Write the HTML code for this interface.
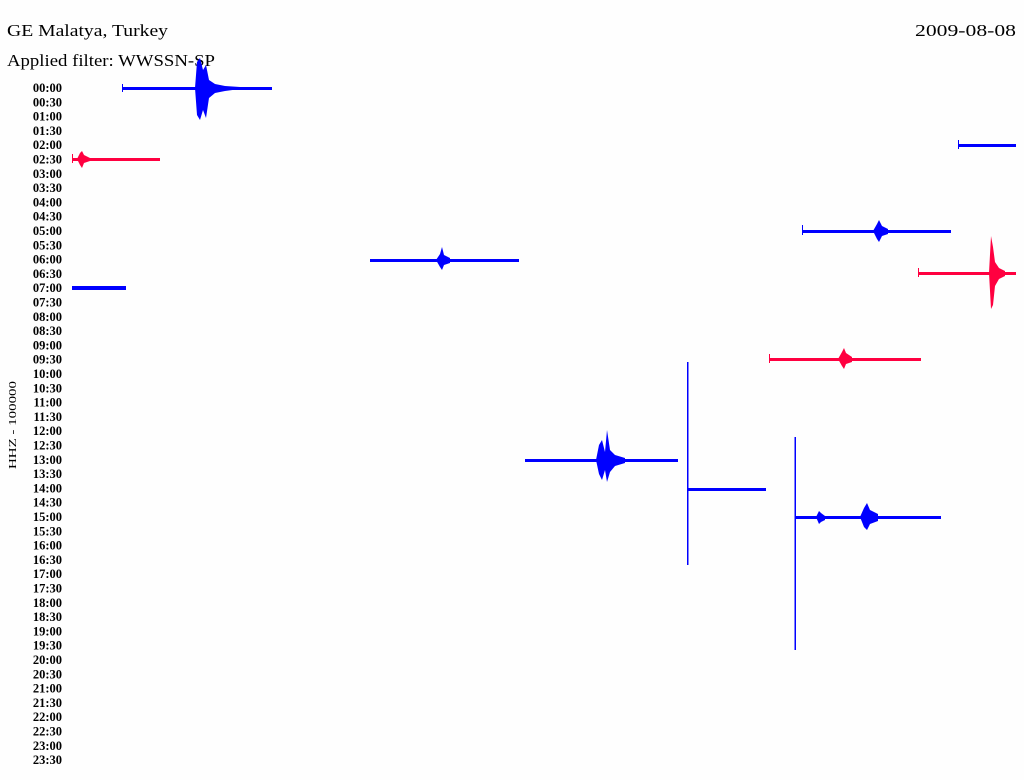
<!DOCTYPE html>
<html><head><meta charset="utf-8"><style>
html,body{margin:0;padding:0;background:#fefefe;}
svg{display:block}
.t{font-family:"Liberation Serif",serif;font-size:17px;fill:#000}
.l{font-family:"Liberation Serif",serif;font-size:12.5px;font-weight:bold;fill:#000;text-anchor:end;dominant-baseline:central}
</style></head><body>
<svg width="1024" height="780" viewBox="0 0 1024 780" xmlns="http://www.w3.org/2000/svg">
<rect width="1024" height="780" fill="#fefefe"/>
<text class="t" x="7" y="36" textLength="161" lengthAdjust="spacingAndGlyphs">GE Malatya, Turkey</text>
<text class="t" x="915" y="36" textLength="101" lengthAdjust="spacingAndGlyphs">2009-08-08</text>
<text class="t" x="7" y="66" textLength="208" lengthAdjust="spacingAndGlyphs">Applied filter: WWSSN-SP</text>
<text class="l" transform="translate(13,425) rotate(-90)" style="text-anchor:middle;font-weight:normal;font-size:11px" textLength="88" lengthAdjust="spacingAndGlyphs">HHZ - 100000</text>
<g>
<text class="l" x="62" y="88">00:00</text><text class="l" x="62" y="102.3">00:30</text><text class="l" x="62" y="116.6">01:00</text><text class="l" x="62" y="130.9">01:30</text>
<text class="l" x="62" y="145.2">02:00</text><text class="l" x="62" y="159.5">02:30</text><text class="l" x="62" y="173.8">03:00</text><text class="l" x="62" y="188.1">03:30</text>
<text class="l" x="62" y="202.4">04:00</text><text class="l" x="62" y="216.7">04:30</text><text class="l" x="62" y="231">05:00</text><text class="l" x="62" y="245.3">05:30</text>
<text class="l" x="62" y="259.6">06:00</text><text class="l" x="62" y="273.9">06:30</text><text class="l" x="62" y="288.2">07:00</text><text class="l" x="62" y="302.5">07:30</text>
<text class="l" x="62" y="316.8">08:00</text><text class="l" x="62" y="331.1">08:30</text><text class="l" x="62" y="345.4">09:00</text><text class="l" x="62" y="359.7">09:30</text>
<text class="l" x="62" y="374">10:00</text><text class="l" x="62" y="388.3">10:30</text><text class="l" x="62" y="402.6">11:00</text><text class="l" x="62" y="416.9">11:30</text>
<text class="l" x="62" y="431.2">12:00</text><text class="l" x="62" y="445.5">12:30</text><text class="l" x="62" y="459.8">13:00</text><text class="l" x="62" y="474.1">13:30</text>
<text class="l" x="62" y="488.4">14:00</text><text class="l" x="62" y="502.7">14:30</text><text class="l" x="62" y="517">15:00</text><text class="l" x="62" y="531.3">15:30</text>
<text class="l" x="62" y="545.6">16:00</text><text class="l" x="62" y="559.9">16:30</text><text class="l" x="62" y="574.2">17:00</text><text class="l" x="62" y="588.5">17:30</text>
<text class="l" x="62" y="602.8">18:00</text><text class="l" x="62" y="617.1">18:30</text><text class="l" x="62" y="631.4">19:00</text><text class="l" x="62" y="645.7">19:30</text>
<text class="l" x="62" y="660">20:00</text><text class="l" x="62" y="674.3">20:30</text><text class="l" x="62" y="688.6">21:00</text><text class="l" x="62" y="702.9">21:30</text>
<text class="l" x="62" y="717.2">22:00</text><text class="l" x="62" y="731.5">22:30</text><text class="l" x="62" y="745.8">23:00</text><text class="l" x="62" y="760.1">23:30</text>
</g>
<g fill="#0000ff" stroke="none">
<rect x="122" y="87" width="150" height="3"/>
<rect x="122" y="84" width="1" height="8"/>
<polygon points="195,88 197,62 200,58 203,70 206,65 209,80 215,84 225,86 240,87 240,89 225,91 215,93 209,98 206,118 203,110 200,120 197,115"/>
<rect x="958" y="144" width="58" height="3"/>
<rect x="958" y="140" width="1" height="9"/>
<rect x="802" y="230" width="149" height="3"/>
<rect x="802" y="225" width="1" height="10"/>
<polygon points="873,231 877,224 879,220 882,226 888,229 888,234 882,236 879,242 877,239"/>
<rect x="370" y="259" width="149" height="3"/>
<polygon points="436,260 440,254 442,247 444,255 450,258 450,263 444,265 442,270 440,267"/>
<rect x="72" y="286" width="54" height="4"/>
<rect x="525" y="459" width="153" height="3"/>
<polygon points="596,460 599,445 602,440 605,452 607,430 610,450 615,455 625,458 625,463 615,466 610,472 607,482 605,470 602,480 599,474"/>
<rect x="687" y="362" width="1.5" height="203"/>
<rect x="688" y="488" width="78" height="3"/>
<rect x="794.5" y="437" width="1.5" height="213"/>
<rect x="795" y="516" width="146" height="3"/>
<polygon points="816,517 819,511 821,513 825,516 825,520 821,522 819,524"/>
<polygon points="860,517 864,508 867,503 870,510 878,514 878,521 870,524 867,530 864,527"/>
</g>
<g fill="#ff0040" stroke="none">
<rect x="72" y="158" width="88" height="3"/>
<rect x="72" y="154" width="1" height="9"/>
<polygon points="77,159 80,153 82,151 84,155 90,158 90,161 84,163 82,168 80,165"/>
<rect x="918" y="272" width="98" height="3"/>
<rect x="918" y="268" width="1" height="9"/>
<polygon points="989,273 991,236 993,247 995,262 999,268 1005,271 1005,276 999,279 995,286 993,305 991,309"/>
<rect x="769" y="358" width="152" height="3"/>
<rect x="769" y="354" width="1" height="9"/>
<polygon points="838,359 842,352 844,348 846,353 852,357 852,362 846,364 844,369 842,366"/>
</g>
</svg>
</body></html>
